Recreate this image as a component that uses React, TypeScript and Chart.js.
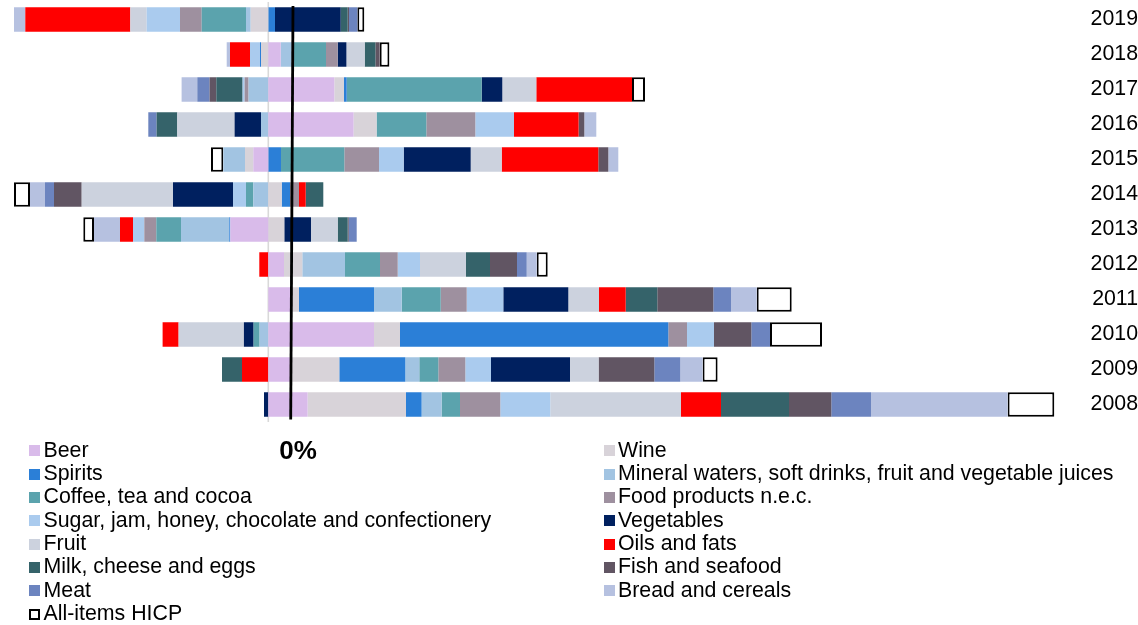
import React, { useEffect, useRef } from 'react';
import { Chart, registerables } from 'chart.js';

Chart.register(...registerables);

// Categories (top to bottom)
const YEARS = ['2019', '2018', '2017', '2016', '2015', '2014', '2013', '2012', '2011', '2010', '2009', '2008'];

// Contributions (same order as YEARS)
const BEER = [0, 0.124, 0.66, 0.853, -0.15, 0, -0.38, 0.157, 0.227, 1.057, 0.237, 0.393];
const WINE = [-0.176, -0.073, 0.097, 0.23, -0.083, 0.134, 0.16, 0.183, 0.08, 0.26, 0.473, 0.984];
const SPIRITS = [0.067, -0.01, 0.027, 0, 0.127, 0.083, -0.01, 0, 0.75, 2.683, 0.66, 0.156];
const MINERAL = [-0.047, 0.11, -0.197, -0.073, -0.217, -0.15, -0.483, 0.427, 0.277, -0.087, 0.14, 0.2];
const COFFEE = [-0.443, 0.343, 1.35, 0.497, 0.633, -0.073, -0.247, 0.35, 0.39, -0.06, 0.19, 0.184];
const FOOD_NEC = [-0.217, 0.117, -0.04, 0.49, 0.347, 0.09, -0.12, 0.177, 0.26, 0.187, 0.27, 0.403];
const SUGAR = [-0.333, -0.1, -0.02, 0.387, 0.247, -0.13, -0.113, 0.223, 0.366, 0.27, 0.257, 0.5];
const VEGETABLES = [0.657, 0.087, 0.206, -0.264, 0.67, -0.6, 0.267, 0, 0.65, -0.097, 0.79, -0.043];
const FRUIT = [-0.164, 0.183, 0.34, -0.573, 0.31, -0.913, 0.267, 0.46, 0.307, -0.653, 0.286, 1.307];
const OILS = [-1.05, -0.2, 0.957, 0.646, 0.966, 0.067, -0.13, -0.09, 0.267, -0.16, -0.263, 0.4];
const MILK = [0.07, 0.107, -0.263, -0.207, 0, 0.176, 0.1, 0.24, 0.316, 0, -0.2, 0.68];
const FISH = [0.013, 0.043, -0.067, 0.057, 0.1, -0.277, 0.01, 0.27, 0.56, 0.373, 0.557, 0.423];
const MEAT = [0.083, 0, -0.123, -0.083, 0, -0.09, 0.08, 0.097, 0.177, 0.187, 0.26, 0.397];
const BREAD = [-0.113, -0.033, -0.157, 0.12, 0.1, -0.15, -0.26, 0.1, 0.257, 0, 0.223, 1.366];
const HICP = [0.07, 0.097, 0.13, null, -0.123, -0.16, -0.107, 0.11, 0.35, 0.52, 0.15, 0.467];

const SERIES = [
  { label: 'Beer', color: '#D9BBEA', data: BEER },
  { label: 'Wine', color: '#D8D3D9', data: WINE },
  { label: 'Spirits', color: '#2B7FD7', data: SPIRITS },
  { label: 'Mineral waters, soft drinks, fruit and vegetable juices', color: '#A2C4E2', data: MINERAL },
  { label: 'Coffee, tea and cocoa', color: '#5BA3AD', data: COFFEE },
  { label: 'Food products n.e.c.', color: '#9E909F', data: FOOD_NEC },
  { label: 'Sugar, jam, honey, chocolate and confectionery', color: '#AACBEE', data: SUGAR },
  { label: 'Vegetables', color: '#00205F', data: VEGETABLES },
  { label: 'Fruit', color: '#CCD2DE', data: FRUIT },
  { label: 'Oils and fats', color: '#FF0000', data: OILS },
  { label: 'Milk, cheese and eggs', color: '#35636A', data: MILK },
  { label: 'Fish and seafood', color: '#615563', data: FISH },
  { label: 'Meat', color: '#6C84BF', data: MEAT },
  { label: 'Bread and cereals', color: '#B6C1E0', data: BREAD },
];
const HICP_LABEL = 'All-items HICP';
const ZERO_LABEL = '0%';

const FONT = "'Liberation Sans', Arial, Helvetica, sans-serif";
const W = 1138;
const H = 625;

const overlayPlugin = {
  id: 'overlay',
  beforeDatasetsDraw(chart: any) {
    const { ctx, chartArea, scales } = chart;
    const x0 = scales.x.getPixelForValue(0);
    ctx.save();
    ctx.strokeStyle = '#D9D9D9';
    ctx.lineWidth = 1.6;
    ctx.beginPath();
    ctx.moveTo(x0, chartArea.top);
    ctx.lineTo(x0, chartArea.bottom);
    ctx.stroke();
    ctx.restore();
  },
  afterDatasetsDraw(chart: any) {
    const { ctx, chartArea, scales } = chart;
    const xTop = scales.x.getPixelForValue(0.247);
    const xBot = scales.x.getPixelForValue(0.224);
    ctx.save();
    ctx.strokeStyle = '#000';
    ctx.lineWidth = 2.8;
    ctx.beginPath();
    ctx.moveTo(xTop, chartArea.top + 4);
    ctx.lineTo(xBot, chartArea.bottom - 2.5);
    ctx.stroke();
    ctx.fillStyle = '#000';
    ctx.font = `bold 26px ${FONT}`;
    ctx.textAlign = 'center';
    ctx.textBaseline = 'alphabetic';
    ctx.fillText(ZERO_LABEL, scales.x.getPixelForValue(0.297), chartArea.bottom + 36.6);
    ctx.restore();
  },
};

export default function App() {
  const canvasRef = useRef<HTMLCanvasElement | null>(null);

  useEffect(() => {
    const canvas = canvasRef.current;
    if (!canvas) return;
    const datasets: any[] = SERIES.map((s) => ({
      label: s.label,
      data: s.data,
      backgroundColor: s.color,
      borderWidth: 0,
      barPercentage: 0.7,
      categoryPercentage: 1,
    }));
    datasets.push({
      label: HICP_LABEL,
      data: HICP,
      backgroundColor: '#FFFFFF',
      borderColor: '#000000',
      borderWidth: 2,
      borderSkipped: false,
      barPercentage: 0.7,
      categoryPercentage: 1,
    });
    const chart = new Chart(canvas, {
      type: 'bar',
      data: { labels: YEARS, datasets },
      options: {
        indexAxis: 'y',
        animation: false,
        responsive: true,
        maintainAspectRatio: false,
        layout: { padding: { top: 2, bottom: 203, left: 0, right: 0 } },
        plugins: {
          legend: { display: false },
          tooltip: { enabled: false },
          title: { display: false },
        },
        scales: {
          x: {
            type: 'linear',
            stacked: true,
            display: false,
            min: -2.683,
            max: 8.017,
          },
          y: {
            type: 'category',
            stacked: true,
            position: 'right',
            grid: { display: false, drawTicks: false },
            border: { display: false },
            afterFit: (scale: any) => {
              scale.width = 68;
              scale.paddingTop = 0;
              scale.paddingBottom = 0;
            },
            ticks: {
              autoSkip: false,
              padding: 16,
              crossAlign: 'far',
              color: '#000',
              font: { family: FONT, size: 21.33 },
            },
          },
        },
      } as any,
      plugins: [overlayPlugin],
    });
    return () => chart.destroy();
  }, []);

  const legendItems = [
    ...SERIES.map((s) => ({ label: s.label, color: s.color, hollow: false })),
    { label: HICP_LABEL, color: '#FFFFFF', hollow: true },
  ];

  return (
    <div style={{ position: 'absolute', left: 0, top: 0, width: W, height: H, background: '#fff' }}>
      <div style={{ position: 'absolute', left: 0, top: 0, width: W, height: H }}>
        <canvas ref={canvasRef} />
      </div>
      {legendItems.map((it, i) => {
        const col = i % 2;
        const row = Math.floor(i / 2);
        const markerLeft = col === 0 ? 29 : 603.5;
        const textLeft = col === 0 ? 43.5 : 618;
        const top = 438.6 + 23.33 * row;
        return (
          <div
            key={it.label}
            style={{
              position: 'absolute',
              left: 0,
              top,
              height: 23.33,
              width: W,
              fontFamily: FONT,
              fontSize: 21.33,
              lineHeight: '23.33px',
              color: '#000',
              whiteSpace: 'nowrap',
            }}
          >
            <span
              style={{
                position: 'absolute',
                left: markerLeft,
                top: 6.9,
                width: 11,
                height: 11,
                boxSizing: 'border-box',
                background: it.color,
                border: it.hollow ? '2px solid #000' : 'none',
              }}
            />
            <span style={{ position: 'absolute', left: textLeft, top: 0 }}>{it.label}</span>
          </div>
        );
      })}
    </div>
  );
}
